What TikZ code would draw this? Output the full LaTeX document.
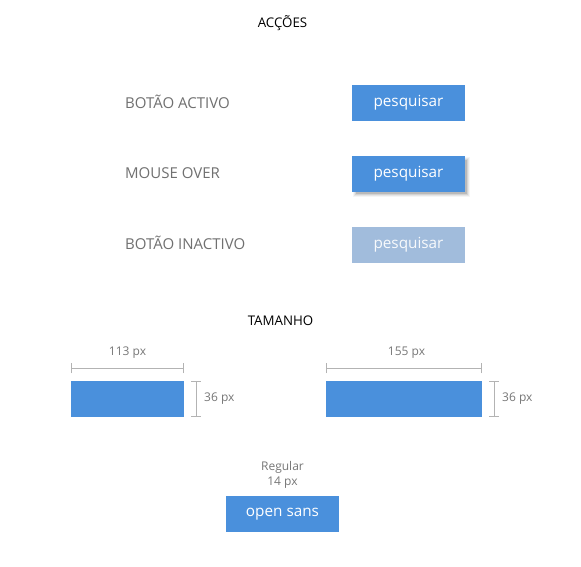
\documentclass[tikz,border=0pt]{standalone}
\usepackage{fontspec}
\setmainfont{Open Sans}
\definecolor{btnblue}{HTML}{4A90DC}
\definecolor{btnoff}{HTML}{A1BCDC}
\definecolor{lblgray}{HTML}{707070}
\definecolor{dimgray}{HTML}{B3B3B3}
\definecolor{dimtext}{HTML}{777777}
\begin{document}
\begin{tikzpicture}[x=1pt,y=-1pt,
  btn/.style={fill=btnblue, draw=none, minimum width=113pt, minimum height=36pt, inner sep=0pt, text=white, font=\fontsize{15.3}{17}\selectfont},
  lbl/.style={text=lblgray, anchor=west, inner sep=0pt, font=\fontsize{15}{17}\selectfont},
  title/.style={text=black, inner sep=0pt, font=\fontsize{13.3}{15}\selectfont},
  dim/.style={draw=dimgray, line width=1pt},
  dimlbl/.style={text=dimtext, inner sep=0pt, font=\fontsize{12}{14}\selectfont},
  shadowlayer/.style={fill=black, draw=none, fill opacity=#1}]
\useasboundingbox[fill=white] (0,0) rectangle (581,567);

\node[title] (acc) at (282.5,23) {ACÇÕES};

\node[lbl] (l1) at (125,102) {BOTÃO ACTIVO};
\node[lbl] (l2) at (125,173) {MOUSE OVER};
\node[lbl] (l3) at (125,243) {BOTÃO INACTIVO};

\node[btn] (b1) at (408.5,103) {pesquisar};

% soft drop shadow of the hovered button (drawn first, behind it)
\coordinate (sc) at (411.5,177);
\foreach \r/\o in {3.5/0.04,2.5/0.06,1.5/0.08,0.5/0.12}{
  \fill[shadowlayer=\o] ([shift={(-56.5-\r+1.5,-18-\r+1.5)}]sc) rectangle ([shift={(56.5+\r-1.5,18+\r-1.5)}]sc);
}
\node[btn] (b2) at (408.5,174) {pesquisar};
\node[btn, fill=btnoff, text=white!92!btnoff] (b3) at (408.5,245) {pesquisar};

\node[title] (tam) at (280.5,321) {TAMANHO};

% size boxes
\node[btn, minimum width=113pt] (r1) at (127.5,399) {};
\node[btn, minimum width=156pt] (r2) at (404,399) {};

% horizontal dims
\coordinate (h1a) at (71.5,368);
\coordinate (h1b) at (183.5,368);
\draw[dim] (h1a) -- (h1b);
\draw[dim] ([yshift=-5pt]h1a) -- ([yshift=5pt]h1a);
\draw[dim] ([yshift=-5pt]h1b) -- ([yshift=5pt]h1b);
\node[dimlbl] (t1) at (127.5,352.5) {113 px};

\coordinate (h2a) at (326.5,368);
\coordinate (h2b) at (481.5,368);
\draw[dim] (h2a) -- (h2b);
\draw[dim] ([yshift=-5pt]h2a) -- ([yshift=5pt]h2a);
\draw[dim] ([yshift=-5pt]h2b) -- ([yshift=5pt]h2b);
\node[dimlbl] (t2) at (406.5,352.5) {155 px};

% vertical dims
\coordinate (v1a) at (196,381.5);
\coordinate (v1b) at (196,416.5);
\draw[dim] (v1a) -- (v1b);
\draw[dim] ([xshift=-5pt]v1a) -- ([xshift=5pt]v1a);
\draw[dim] ([xshift=-5pt]v1b) -- ([xshift=5pt]v1b);
\node[dimlbl, anchor=west] (t3) at (204,399) {36 px};

\coordinate (v2a) at (494,381.5);
\coordinate (v2b) at (494,416.5);
\draw[dim] (v2a) -- (v2b);
\draw[dim] ([xshift=-5pt]v2a) -- ([xshift=5pt]v2a);
\draw[dim] ([xshift=-5pt]v2b) -- ([xshift=5pt]v2b);
\node[dimlbl, anchor=west] (t4) at (502,399) {36 px};

% font spec
\node[dimlbl] (reg) at (282.5,467) {Regular};
\node[dimlbl] (sz) at (282.5,482.5) {14 px};
\node[btn] (os) at (282.5,514) {open sans};
\end{tikzpicture}
\end{document}
